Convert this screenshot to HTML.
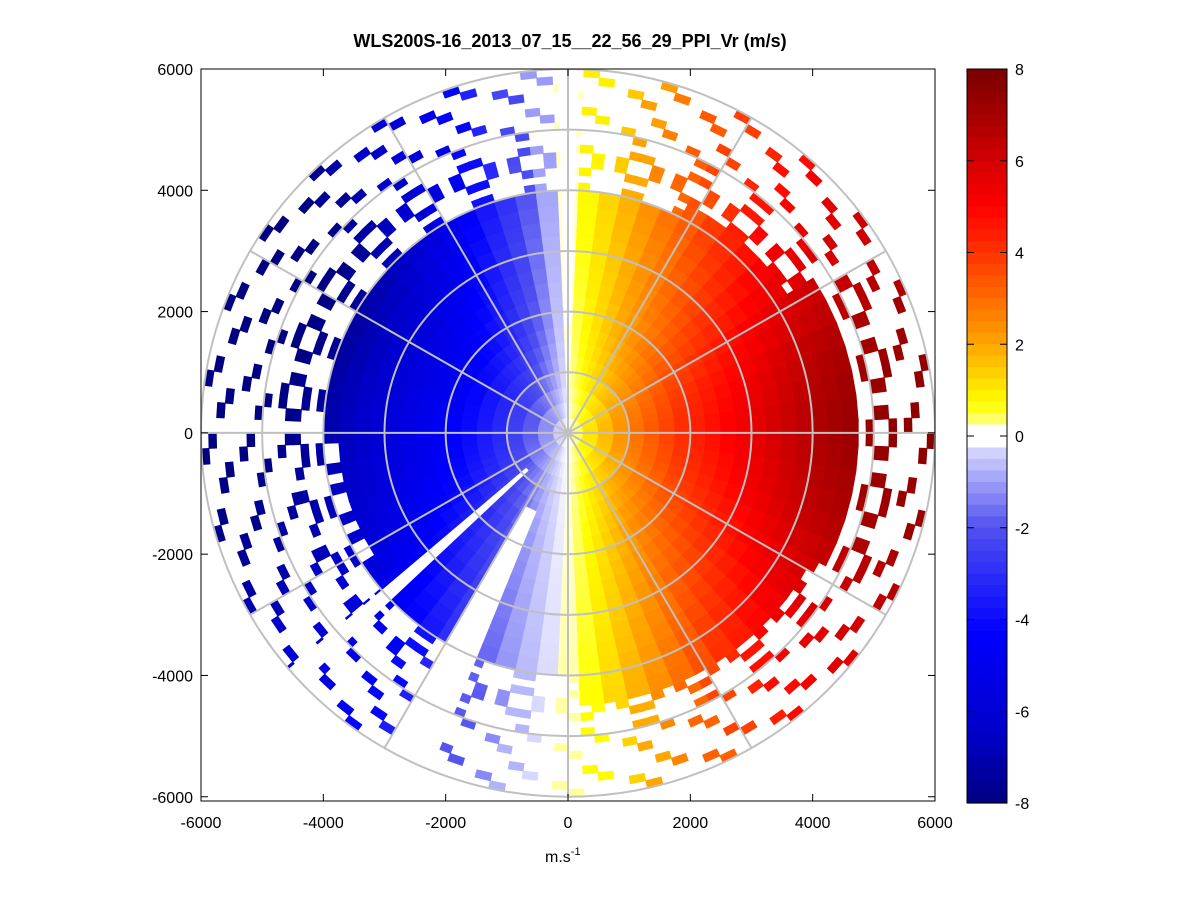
<!DOCTYPE html>
<html><head><meta charset="utf-8"><style>
body{margin:0;background:#fff;}
svg{display:block;font-family:"Liberation Sans",Arial,sans-serif;}
</style></head><body>
<svg id="chart" width="1201" height="901" viewBox="0 0 1201 901">
<rect x="0" y="0" width="1201" height="901" fill="#fff"/>
<text x="570" y="47" font-size="18" text-anchor="middle" font-weight="bold" fill="#000">WLS200S-16_2013_07_15__22_56_29_PPI_Vr (m/s)</text>
<defs><clipPath id="plotclip"><rect x="201" y="69" width="734" height="732"/></clipPath></defs>
<g id="cells" clip-path="url(#plotclip)"></g>
<g id="gaps" clip-path="url(#plotclip)"></g>
<g id="grid" clip-path="url(#plotclip)"></g>
<rect x="201" y="69" width="734" height="732" fill="none" stroke="#000" stroke-width="1"/>
<g id="axes"></g>
<text x="545" y="862" font-size="16" fill="#000">m.s<tspan dy="-7" font-size="11">-1</tspan></text>
<g id="cbar"></g>
</svg>
<script>
// azimuth (deg, clockwise from north) bin centres every 5 deg: normalized radial velocity
const azProfile = [0.02,0.12,0.2,0.28,0.36,0.44,0.5,0.57,0.63,0.69,0.75,0.8,0.85,0.89,0.93,0.96,0.98,1.0,
1.0,0.99,0.97,0.95,0.92,0.88,0.84,0.8,0.75,0.7,0.64,0.58,0.5,0.42,0.34,0.26,0.18,0.1,
0.03,-0.04,-0.1,-0.17,-0.26,-0.36,-0.46,-0.56,-0.65,-0.73,-0.8,-0.86,-0.92,-0.96,-1.0,-1.03,-1.05,-1.07,
-1.08,-1.09,-1.1,-1.11,-1.12,-1.12,-1.11,-1.09,-1.06,-1.01,-0.95,-0.87,-0.78,-0.68,-0.56,-0.44,-0.3,-0.14];
// speed scale per 250 m range gate (m/s)
const rangeSpeed = [0.4,1.1,1.7,2.3,2.9,3.3,3.7,4.1,4.4,4.7,5.0,5.3,5.6,5.9,6.2,6.5,6.8,7.0,7.2,7.3,7.4,7.5,7.5,7.6];
// dense-coverage range per 30 deg sector (m)
const denseRange = [3900,4200,4700,4700,4300,4300,4000,3800,3600,3900,4000,3900];
const sparseRange = [5900,6000,6000,6000,6000,5900,6000,6000,5800,5800,5900,5900];
// gaps in data: start az, end az, starting range (m)
const gapStart = [-1.5, 202, 226.5];
const gapEnd = [1.5, 210, 229.5];
const gapMinRange = [1800, 1400, 900];
const xTicks = [-6000,-4000,-2000,0,2000,4000,6000];
const yTicks = [6000,4000,2000,0,-2000,-4000,-6000];
const cbTicks = [8,6,4,2,0,-2,-4,-6,-8];

const NS="http://www.w3.org/2000/svg";
const X0=201,X1=935,Y0=69,Y1=801;
function xS(v){return X0+(v+6000)/12000*(X1-X0);}
function yS(v){return Y0+(6000-v)/(12070)*(Y1-Y0);}
function pt(az,r){const a=az*Math.PI/180;return [xS(r*Math.sin(a)),yS(r*Math.cos(a))];}
const anchors=[[-8,[0,0,128]],[-6.5,[0,0,200]],[-4.3,[0,0,255]],[-2,[80,80,240]],[-0.3,[215,215,255]],[0,[255,255,255]],[0.3,[255,255,128]],[0.7,[255,255,0]],[2,[255,165,0]],[4,[255,50,0]],[5,[255,0,0]],[8,[120,0,0]]];
function cmap(v){v=Math.max(-8,Math.min(8,v));
 for(let i=0;i<anchors.length-1;i++){const a=anchors[i],b=anchors[i+1];
  if(v<=b[0]){const t=(v-a[0])/(b[0]-a[0]);const c=a[1].map((x,k)=>Math.round(x+(b[1][k]-x)*t));return `rgb(${c[0]},${c[1]},${c[2]})`;}}
 return 'rgb(120,0,0)';}
function sector(g,a0,a1,r0,r1,fill,name){
 const p1=pt(a0,r0),p2=pt(a0,r1),p3=pt(a1,r1),p4=pt(a1,r0);
 const el=document.createElementNS(NS,'path');
 el.setAttribute('d',`M${p1}L${p2}L${p3}L${p4}Z`);
 el.setAttribute('fill',fill);el.setAttribute('stroke',fill);el.setAttribute('stroke-width','0.8');
 
 
 g.appendChild(el);}
const cells=document.getElementById('cells');
const G=250;
for(let i=0;i<azProfile.length;i++){
 const az=i*5, sec=Math.floor(((az+2.5)%360)/30);
 for(let j=0;j<rangeSpeed.length;j++){
  const r0=j*G,r1=r0+G;
  if(r0>=sparseRange[sec])continue;
  const v=azProfile[i]*rangeSpeed[j];
  if(r0>=denseRange[sec]){
   const lim = r0 < denseRange[sec]+700 ? 2 : 1;
   for(let a=0;a<2;a++)for(let b=0;b<2;b++){
    const ia=i*2+a, jb=j*2+b;
    if(((ia*7+jb*11+ia*jb)%5)<lim) sector(cells,az-2.5+a*2.5,az+a*2.5,r0+b*125,r0+(b+1)*125,cmap(v),'velocity-cell');
   }
   continue;
  }
  sector(cells,az-2.5,az+2.5,r0,r1,cmap(v),'velocity-cell');
 }}
const gaps=document.getElementById('gaps');
for(let k=0;k<gapStart.length;k++){sector(gaps,gapStart[k],gapEnd[k],gapMinRange[k],6500,'#fff','data-gap');}
const grid=document.getElementById('grid');
for(let r=1000;r<=6000;r+=1000){const e=document.createElementNS(NS,'ellipse');
 e.setAttribute('cx',xS(0));e.setAttribute('cy',yS(0));e.setAttribute('rx',xS(r)-xS(0));e.setAttribute('ry',yS(0)-yS(r));
 e.setAttribute('fill','none');e.setAttribute('stroke','#c0c0c0');e.setAttribute('stroke-width','2');
 
 
 grid.appendChild(e);}
for(let a=0;a<180;a+=30){const p=pt(a,6000),q=pt(a+180,6000);const l=document.createElementNS(NS,'line');
 l.setAttribute('x1',p[0]);l.setAttribute('y1',p[1]);l.setAttribute('x2',q[0]);l.setAttribute('y2',q[1]);
 l.setAttribute('stroke','#c0c0c0');l.setAttribute('stroke-width','2');
 
 
 grid.appendChild(l);}
const axes=document.getElementById('axes');
function line(g,x1,y1,x2,y2,name){const l=document.createElementNS(NS,'line');
 l.setAttribute('x1',x1);l.setAttribute('y1',y1);l.setAttribute('x2',x2);l.setAttribute('y2',y2);l.setAttribute('stroke','#000');
 
 
 g.appendChild(l);}
function txt(g,x,y,s,anchor,name){const t=document.createElementNS(NS,'text');
 t.setAttribute('x',x);t.setAttribute('y',y);t.setAttribute('font-size','16');t.setAttribute('text-anchor',anchor);t.textContent=s;
 
 
 g.appendChild(t);}
xTicks.forEach(v=>{const x=xS(v);line(axes,x,Y1,x,Y1-7,'x-tick');line(axes,x,Y0,x,Y0+7,'x-tick');txt(axes,x,828,String(v),'middle','x-tick-label');});
yTicks.forEach(v=>{const y=yS(v);line(axes,X0,y,X0+7,y,'y-tick');line(axes,X1,y,X1-7,y,'y-tick');txt(axes,193,y+6,String(v),'end','y-tick-label');});
const cb=document.getElementById('cbar');
const CX0=967,CX1=1007,CY0=69,CY1=803,N=64;
for(let k=0;k<N;k++){const v=8-(k+0.5)*16/N;const r=document.createElementNS(NS,'rect');
 r.setAttribute('x',CX0);r.setAttribute('y',CY0+k*(CY1-CY0)/N);r.setAttribute('width',CX1-CX0);r.setAttribute('height',(CY1-CY0)/N+0.6);
 r.setAttribute('fill',Math.abs(v)<0.2?'#fff':cmap(v));
 
 
 cb.appendChild(r);}
const fr=document.createElementNS(NS,'rect');fr.setAttribute('x',CX0);fr.setAttribute('y',CY0);fr.setAttribute('width',CX1-CX0);fr.setAttribute('height',CY1-CY0);fr.setAttribute('fill','none');fr.setAttribute('stroke','#000');


cb.appendChild(fr);
cbTicks.forEach(v=>{const y=CY0+(8-v)/16*(CY1-CY0);line(cb,CX0,y,CX0+7,y,'colorbar-tick');line(cb,CX1,y,CX1-7,y,'colorbar-tick');txt(cb,1015,y+6,String(v),'start','colorbar-tick-label');});
</script>
</body></html>
